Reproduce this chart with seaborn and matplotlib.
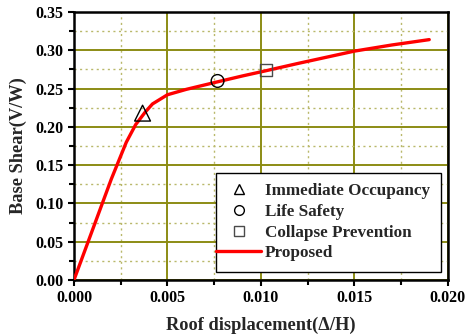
import matplotlib
matplotlib.use("Agg")
import matplotlib.pyplot as plt
from matplotlib.lines import Line2D
from matplotlib.legend_handler import HandlerLine2D
from matplotlib.ticker import MultipleLocator, FormatStrFormatter
import seaborn as sns
import pandas as pd

# Pushover (capacity) curve: roof drift ratio vs. normalised base shear
drift = [0.0, 0.0010, 0.0020, 0.0028, 0.0033, 0.0038, 0.0042, 0.0050,
         0.0060, 0.0077, 0.0090, 0.0102, 0.0120, 0.0150, 0.0170, 0.0190]
shear = [0.0, 0.066, 0.132, 0.180, 0.203, 0.219, 0.230, 0.242,
         0.249, 0.259, 0.2665, 0.273, 0.283, 0.299, 0.307, 0.314]

# Performance levels
levels = ["Immediate Occupancy", "Life Safety", "Collapse Prevention"]
level_drift = [0.00367, 0.00768, 0.01025]
level_shear = [0.218, 0.260, 0.274]
level_markers = ["^", "o", "s"]
level_sizes = [130, 84, 75]
level_edges = ["black", "black", "#4a4a4a"]


class WideLineHandler(HandlerLine2D):
    """Legend line that runs out to the frame edge on the left."""

    def __init__(self, left=7.8, right=6.5, **kw):
        super().__init__(**kw)
        self.left = left
        self.right = right

    def create_artists(self, legend, orig_handle, xdescent, ydescent,
                       width, height, fontsize, trans):
        artists = super().create_artists(legend, orig_handle, xdescent,
                                         ydescent, width, height, fontsize,
                                         trans)
        line = artists[0]
        y = line.get_ydata()[0]
        line.set_data([-xdescent - self.left, width - xdescent + self.right],
                      [y, y])
        return artists


sns.set_style("white")
plt.rcParams["font.family"] = ["Liberation Serif", "DejaVu Serif"]
plt.rcParams["font.weight"] = "bold"

fig = plt.figure(figsize=(4.74, 3.35), dpi=100)
ax = fig.add_axes([0.156, 0.164, 0.789, 0.800])

curve = pd.DataFrame({"drift": drift, "shear": shear})
sns.lineplot(data=curve, x="drift", y="shear", ax=ax, color="#ff0000",
             linewidth=2.4, zorder=4, sort=False)

for dx, sy, mk, sz, ec in zip(level_drift, level_shear, level_markers,
                              level_sizes, level_edges):
    sns.scatterplot(x=[dx], y=[sy], ax=ax, marker=mk, s=sz,
                    facecolor="none", edgecolor=ec, linewidth=1.0,
                    zorder=5)

ax.set_xlim(0.0, 0.020)
ax.set_ylim(0.0, 0.35)
ax.xaxis.set_major_locator(MultipleLocator(0.005))
ax.xaxis.set_minor_locator(MultipleLocator(0.0025))
ax.yaxis.set_major_locator(MultipleLocator(0.05))
ax.yaxis.set_minor_locator(MultipleLocator(0.025))
ax.xaxis.set_major_formatter(FormatStrFormatter("%.3f"))
ax.yaxis.set_major_formatter(FormatStrFormatter("%.2f"))

ax.grid(which="major", color="#8c8c14", linewidth=1.4, linestyle="-")
ax.grid(which="minor", color="#b9b86a", linewidth=1.0, linestyle=(0, (1.5, 2.5)))
ax.set_axisbelow(True)

for side in ["left", "right", "top", "bottom"]:
    ax.spines[side].set_visible(True)
    ax.spines[side].set_color("black")
    ax.spines[side].set_linewidth(1.8)

ax.tick_params(which="both", direction="out", colors="black",
               bottom=True, left=True, top=False, right=False)
ax.tick_params(which="major", length=4, width=1.5, labelsize=11.5)
ax.tick_params(which="minor", length=3.5, width=1.5)
for lab in ax.get_xticklabels() + ax.get_yticklabels():
    lab.set_fontweight("bold")

ax.set_xlabel("Roof displacement(\u0394/H)", fontsize=13.2, fontweight="bold",
              labelpad=7)
ax.set_ylabel("Base Shear(V/W)", fontsize=13.2, fontweight="bold", labelpad=6)

handles = [Line2D([], [], linestyle="none", marker=m, markerfacecolor="none",
                  markeredgecolor=ec, markersize=7, markeredgewidth=1.0)
           for m, ec in zip(level_markers, level_edges)]
proposed = Line2D([], [], color="#ff0000", linewidth=2.4)
handles.append(proposed)
leg = ax.legend(handles, levels + ["Proposed"], loc="lower right",
                bbox_to_anchor=(0.981, 0.030), bbox_transform=ax.transAxes,
                frameon=True, fancybox=False, edgecolor="black",
                handlelength=1.47, handletextpad=0.76, labelspacing=0.27,
                borderpad=0.63, borderaxespad=0.0,
                handler_map={proposed: WideLineHandler()},
                prop={"weight": "bold", "size": 12.3})
leg.get_frame().set_linewidth(1.0)
leg.get_frame().set_alpha(1.0)
leg.set_zorder(10)

fig.savefig("out.png", dpi=100)
